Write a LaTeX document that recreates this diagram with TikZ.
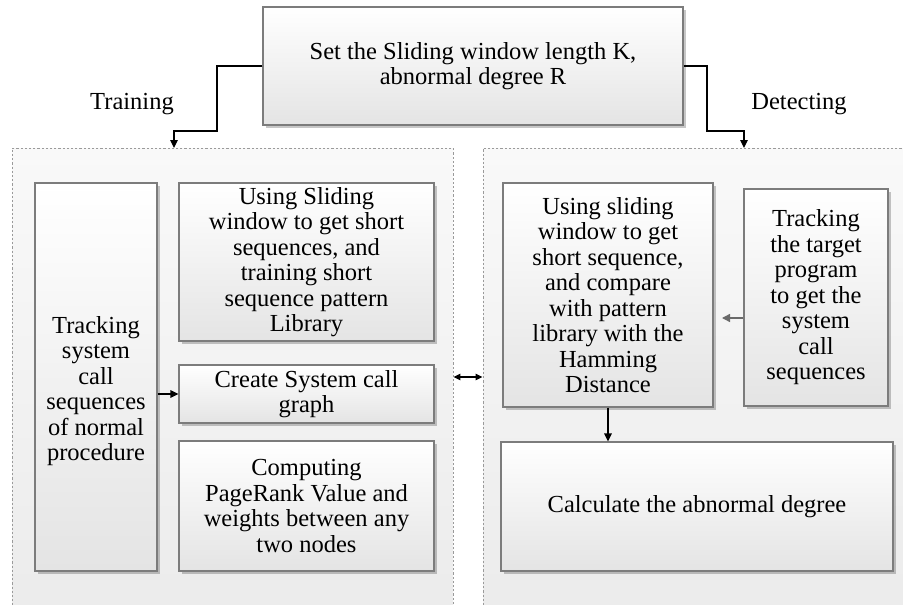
\documentclass[tikz,border=0pt]{standalone}
\usepackage{fontspec}
\setmainfont{Liberation Serif}
\usetikzlibrary{shadows,arrows.meta}
\definecolor{boxline}{HTML}{7C7C7C}
\definecolor{boxbot}{HTML}{E4E4E4}
\definecolor{paneltop}{HTML}{F9F9F9}
\definecolor{panelbot}{HTML}{EBEBEB}
\definecolor{panelline}{HTML}{9A9A9A}
\definecolor{grayarrow}{HTML}{6A6A6A}
\begin{document}
\begin{tikzpicture}[x=1pt,y=-1pt,
  txt/.style={font=\fontsize{24.5pt}{25.5pt}\selectfont},
  stepbox/.style={txt, draw=boxline, line width=1.1pt, top color=white,
    bottom color=boxbot, align=center, inner sep=0pt,
    drop shadow={shadow xshift=2.5pt, shadow yshift=-2.5pt, fill=black, opacity=0.22}},
  panel/.style={draw=panelline, line width=0.9pt, dash pattern=on 2.2pt off 2pt,
    top color=paneltop, bottom color=panelbot, inner sep=0pt},
  conn/.style={line width=1.2pt, -{Triangle[length=8pt,width=7.5pt]}},
  dbl/.style={line width=1.2pt, {Triangle[length=7pt,width=6.5pt]}-{Triangle[length=7pt,width=6.5pt]}},
  grayconn/.style={draw=grayarrow, line width=1.4pt, -{Triangle[length=8pt,width=8pt]}, grayarrow},
]
\useasboundingbox (0,0) rectangle (903,605);
\clip (0,0) rectangle (903,605);

% the two phase panels
\node[panel, minimum width=441pt, minimum height=477pt] (leftc) at (232.5,386.5) {};
\node[panel, minimum width=437pt, minimum height=477pt] (rightc) at (701.5,386.5) {};

% parameter box
\node[stepbox, minimum width=420pt, minimum height=118pt] (top) at (473,66)
  {Set the Sliding window length K,\\abnormal degree R};

% phase labels
\node[txt] (trainlbl) at (132,104) {Training};
\node[txt] (detlbl) at (799,104) {Detecting};

% training side
\node[stepbox, minimum width=122pt, minimum height=388pt] (tall) at (96,377) {};
\node[txt, align=center, inner sep=0pt] (talltext) at (96,391)
  {Tracking\\system\\call\\sequences\\of normal\\procedure};
\node[stepbox, minimum width=255pt, minimum height=158pt] (usl) at (306.5,262)
  {Using Sliding\\window to get short\\sequences, and\\training short\\sequence pattern\\Library};
\node[stepbox, minimum width=255pt, minimum height=58pt] (create) at (306.5,394)
  {Create System call\\graph};
\node[stepbox, minimum width=255pt, minimum height=130pt] (comp) at (306.5,506)
  {Computing\\PageRank Value and\\weights between any\\two nodes};

% detecting side
\node[stepbox, minimum width=210pt, minimum height=224pt] (usw) at (608,295)
  {Using sliding\\window to get\\short sequence,\\and compare\\with pattern\\library with the\\Hamming\\Distance};
\node[stepbox, minimum width=144pt, minimum height=217pt] (track) at (816,297.5)
  {Tracking\\the target\\program\\to get the\\system\\call\\sequences};
\node[stepbox, minimum width=392pt, minimum height=129pt] (calc) at (697,506.5)
  {Calculate the abnormal degree};

% routing points
\coordinate (lbend) at (217,131);
\coordinate (lin) at (174,148);
\coordinate (rbend) at (707,131);
\coordinate (rin) at (744,148);
\coordinate (dbly) at (0,377);
\coordinate (gy) at (0,318);
\coordinate (gtip) at (722,318);

% connectors
\draw[conn] (top.west) -| (lbend) -| (lin);
\draw[conn] (top.east) -| (rbend) -| (rin);
\draw[conn] (tall.east |- create.west) -- (create.west);
\draw[dbl] (leftc.east |- dbly) -- (rightc.west |- dbly);
\draw[grayconn] (track.west |- gy) -- (gtip);
\draw[conn] (usw.south) -- (usw.south |- calc.north);
\end{tikzpicture}
\end{document}
